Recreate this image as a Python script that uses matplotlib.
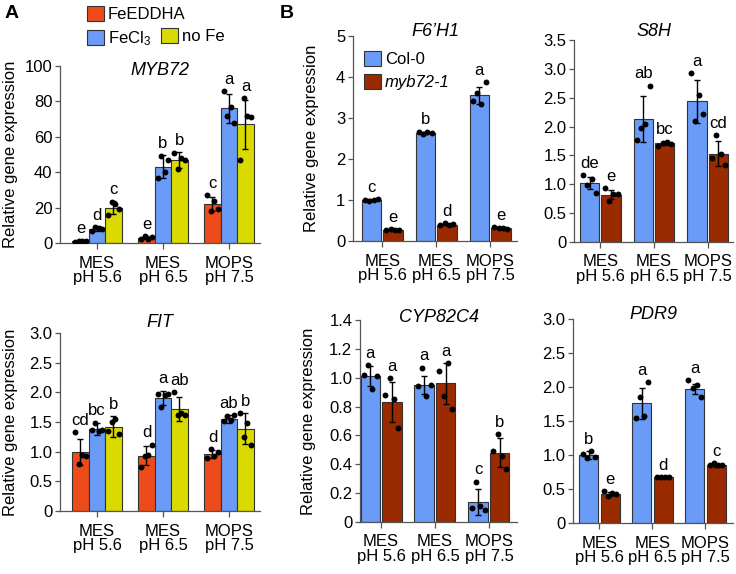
import matplotlib
matplotlib.use('Agg')
import matplotlib.pyplot as plt
import numpy as np
from matplotlib.ticker import FuncFormatter

plt.rcParams['font.family'] = ['Liberation Sans', 'DejaVu Sans']
plt.rcParams['font.size'] = 12
plt.rcParams['mathtext.default'] = 'regular'

groups = ['MES\npH 5.6', 'MES\npH 6.5', 'MOPS\npH 7.5']

# ---- Panel A: three Fe treatments ----
a_names = ['FeEDDHA', 'FeCl$_3$', 'no Fe']
a_colors = ['#EE4B1A', '#6A9BF7', '#DADA00']

myb72_mean = [[1, 3, 22], [8, 43, 76], [20, 47, 67]]
myb72_err = [[0.5, 1, 4], [1, 6.5, 8], [3.5, 4.5, 14]]
myb72_pts = [
    [[0.6, 1.2, 1.0, 1.3], [2.0, 3.8, 2.5, 3.5], [27, 18, 24, 19]],
    [[7, 9, 8.5, 8], [37, 49, 40, 47], [86, 72, 77, 68]],
    [[16, 23, 22, 19], [51, 42, 48, 47], [47, 82, 72, 71]],
]
myb72_letters = [['e', 'e', 'c'], ['d', 'b', 'a'], ['c', 'b', 'a']]

fit_mean = [[1.0, 0.93, 0.96], [1.38, 1.91, 1.55], [1.42, 1.72, 1.39]]
fit_err = [[0.22, 0.16, 0.06], [0.1, 0.12, 0.06], [0.18, 0.2, 0.26]]
fit_pts = [
    [[1.33, 0.80, 0.95, 0.93], [0.75, 0.93, 0.95, 1.12], [0.89, 1.05, 0.92, 1.0]],
    [[1.37, 1.49, 1.35, 1.36], [1.98, 1.75, 1.96, 1.97], [1.51, 1.60, 1.53, 1.62]],
    [[1.35, 1.5, 1.55, 1.3], [2.0, 1.62, 1.65, 1.62], [1.65, 1.25, 1.48, 1.12]],
]
fit_letters = [['cd', 'd', 'd'], ['bc', 'a', 'ab'], ['b', 'ab', 'b']]

# ---- Panel B: Col-0 vs myb72-1 ----
b_names = ['Col-0', 'myb72-1']
b_colors = ['#6A9BF7', '#9A2A00']

f6h1_mean = [[1.0, 2.64, 3.55], [0.27, 0.40, 0.31]]
f6h1_err = [[0.02, 0.03, 0.2], [0.02, 0.02, 0.02]]
f6h1_pts = [
    [[1.0, 0.97, 1.01, 1.02], [2.65, 2.62, 2.66, 2.63], [3.42, 3.62, 3.33, 3.88]],
    [[0.26, 0.29, 0.28, 0.27], [0.40, 0.43, 0.38, 0.41], [0.33, 0.32, 0.31, 0.30]],
]
f6h1_letters = [['c', 'b', 'a'], ['e', 'd', 'e']]

s8h_mean = [[1.02, 2.13, 2.44], [0.82, 1.71, 1.53]]
s8h_err = [[0.1, 0.4, 0.37], [0.08, 0.03, 0.22]]
s8h_pts = [
    [[1.16, 0.98, 1.1, 0.85], [1.77, 1.98, 2.04, 2.71], [2.92, 2.10, 2.55, 2.21]],
    [[0.93, 0.71, 0.84, 0.83], [1.66, 1.72, 1.73, 1.70], [1.45, 1.85, 1.53, 1.33]],
]
s8h_letters = [['de', 'ab', 'a'], ['e', 'bc', 'cd']]

cyp_mean = [[1.01, 0.95, 0.14], [0.83, 0.96, 0.48]]
cyp_err = [[0.07, 0.06, 0.09], [0.14, 0.14, 0.1]]
cyp_pts = [
    [[1.02, 1.09, 0.92, 1.01], [0.94, 1.07, 0.87, 0.95], [0.10, 0.28, 0.11, 0.085]],
    [[0.88, 1.0, 0.85, 0.65], [1.05, 0.87, 1.10, 0.78], [0.49, 0.61, 0.46, 0.37]],
]
cyp_letters = [['a', 'a', 'c'], ['a', 'a', 'b']]

pdr9_mean = [[1.0, 1.76, 1.97], [0.43, 0.67, 0.85]]
pdr9_err = [[0.06, 0.23, 0.08], [0.03, 0.01, 0.02]]
pdr9_pts = [
    [[1.02, 0.95, 1.06, 0.97], [1.55, 1.86, 1.57, 2.07], [2.10, 1.98, 2.03, 1.86]],
    [[0.47, 0.40, 0.44, 0.42], [0.68, 0.67, 0.67, 0.68], [0.86, 0.88, 0.85, 0.86]],
]
pdr9_letters = [['b', 'a', 'a'], ['e', 'd', 'c']]

W, H = 736, 574
fig = plt.figure(figsize=(W / 100, H / 100), dpi=100)


def rect(left, right, top, bottom):
    return [left / W, 1 - bottom / H, (right - left) / W, (bottom - top) / H]


def draw(ax, means, errs, pts, letters, names, colors, width, offsets, jitter,
         ylim, ystep, xlim, title, title_y, ylabel_x=None):
    x0 = np.arange(len(groups))
    bars = []
    for i in range(len(means)):
        x = x0 + offsets[i]
        b = ax.bar(x, means[i], width, color=colors[i], edgecolor='#333333',
                   linewidth=0.8, label=names[i], zorder=2)
        bars.append(b)
        ax.errorbar(x, means[i], yerr=errs[i], fmt='none', ecolor='black',
                    elinewidth=1.0, capsize=2.5, capthick=1.0, zorder=3)
        for j in range(len(groups)):
            ax.scatter(x[j] + np.array(jitter), pts[i][j], s=18, color='black',
                       zorder=4, linewidths=0)
            top = max(means[i][j] + errs[i][j], max(pts[i][j]))
            ax.annotate(letters[i][j], (x[j], top), xytext=(0, 3),
                        textcoords='offset points', ha='center', va='bottom',
                        fontsize=12)
    ax.set_xlim(*xlim)
    ax.set_ylim(0, ylim)
    ax.set_xticks(x0)
    ax.set_xticklabels(groups, fontsize=12, linespacing=0.95)
    ax.set_yticks(np.arange(0, ylim + ystep / 2, ystep))
    isint = float(ystep).is_integer()
    ax.yaxis.set_major_formatter(FuncFormatter(
        lambda v, p: '0' if abs(v) < 1e-9 else ('%d' % round(v) if isint else '%.1f' % v)))
    for s in ['top', 'right']:
        ax.spines[s].set_visible(False)
    for s in ['left', 'bottom']:
        ax.spines[s].set_color('#555555')
        ax.spines[s].set_linewidth(0.9)
    ax.tick_params(axis='y', length=3.5, width=0.9, color='#555555', pad=2,
                   labelsize=12)
    ax.tick_params(axis='x', length=4, width=0.9, color='#555555', pad=5,
                   labelsize=12)
    ax.text(0.5, title_y, title, transform=ax.transAxes, ha='center',
            va='center', fontsize=13, style='italic')
    if ylabel_x is not None:
        ax.set_ylabel('Relative gene expression', fontsize=12)
        ax.yaxis.set_label_coords(ylabel_x, 0.5)
    return bars


a_off = [-0.25, 0, 0.25]
a_jit = [-0.08, -0.027, 0.027, 0.08]
b_off = [-0.2, 0.2]
b_jit = [-0.12, -0.04, 0.04, 0.12]

ax1 = fig.add_axes(rect(60, 260, 66, 243))
bars_a = draw(ax1, myb72_mean, myb72_err, myb72_pts, myb72_letters, a_names,
              a_colors, 0.245, a_off, a_jit, 100, 20, (-0.56, 2.47), 'MYB72',
              0.975, -0.21)

ax2 = fig.add_axes(rect(60, 260, 333, 511))
draw(ax2, fit_mean, fit_err, fit_pts, fit_letters, a_names, a_colors, 0.245,
     a_off, a_jit, 3.0, 0.5, (-0.56, 2.47), 'FIT', 1.06, -0.21)

ax3 = fig.add_axes(rect(353, 517, 36, 241))
bars_b = draw(ax3, f6h1_mean, f6h1_err, f6h1_pts, f6h1_letters, b_names,
              b_colors, 0.36, b_off, b_jit, 5, 1, (-0.54, 2.5), "F6\u2019H1",
              1.02, -0.205)

ax4 = fig.add_axes(rect(574, 733, 40, 242))
draw(ax4, s8h_mean, s8h_err, s8h_pts, s8h_letters, b_names, b_colors, 0.36,
     b_off, b_jit, 3.5, 0.5, (-0.49, 2.47), 'S8H', 1.04)

ax5 = fig.add_axes(rect(360, 517, 320, 522))
draw(ax5, cyp_mean, cyp_err, cyp_pts, cyp_letters, b_names, b_colors, 0.36,
     b_off, b_jit, 1.4, 0.2, (-0.39, 2.52), 'CYP82C4', 1.01, -0.28)

ax6 = fig.add_axes(rect(573, 733, 319, 523))
draw(ax6, pdr9_mean, pdr9_err, pdr9_pts, pdr9_letters, b_names, b_colors, 0.36,
     b_off, b_jit, 3.0, 0.5, (-0.5, 2.52), 'PDR9', 1.02)

# legends
leg_kw = dict(frameon=False, borderpad=0, borderaxespad=0, handlelength=1.0,
              handleheight=1.0, handletextpad=0.25, labelspacing=0.4,
              fontsize=12, loc='upper left')
l1 = fig.legend(handles=bars_a[:2], bbox_to_anchor=(87 / W, 1 - 6 / H), **leg_kw)
l2 = fig.legend(handles=bars_a[2:], bbox_to_anchor=(161 / W, 1 - 28 / H), **leg_kw)
l3 = ax3.legend(handles=bars_b, bbox_to_anchor=(364 / W, 1 - 51 / H),
                bbox_transform=fig.transFigure, **leg_kw)
for t in l3.get_texts():
    if t.get_text() == 'myb72-1':
        t.set_style('italic')

fig.text(5 / W, 1 - 13 / H, 'A', fontsize=14, fontweight='bold', va='center')
fig.text(280 / W, 1 - 13 / H, 'B', fontsize=14, fontweight='bold', va='center')

fig.savefig('out.png', dpi=100)
